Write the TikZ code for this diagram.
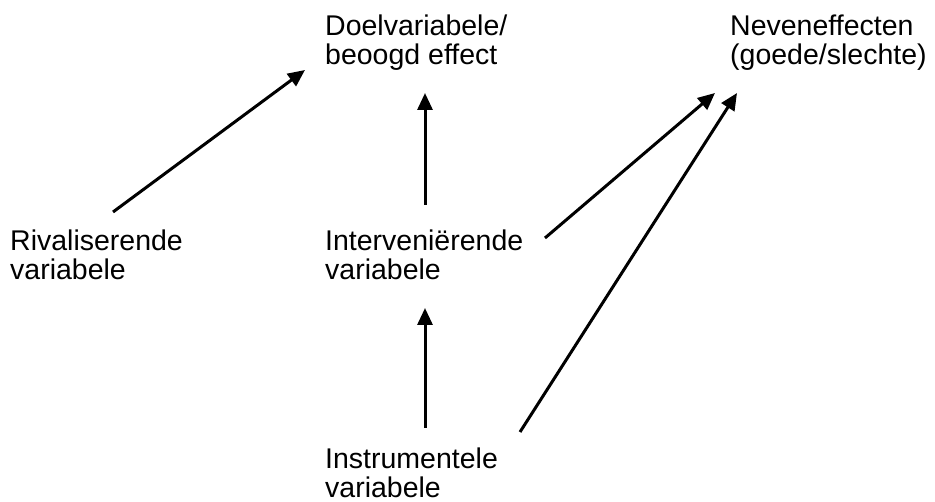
\documentclass[tikz,border=0pt]{standalone}
\usepackage{fontspec}
\setmainfont{Liberation Sans}
\usetikzlibrary{arrows.meta}
\begin{document}
\begin{tikzpicture}[x=1pt,y=-1pt,
  lbl/.style={anchor=base west,inner sep=0pt,align=left,font=\fontsize{28.5}{29.5}\selectfont},
  arr/.style={line width=3pt,-{Triangle[length=17pt,width=15pt]}}]
\useasboundingbox (0,0) rectangle (935,502);
\node[lbl] (doel) at (325,65) {Doelvariabele/\\beoogd effect};
\node[lbl] (neven) at (730,65) {Neveneffecten\\(goede/slechte)};
\node[lbl] (rival) at (10,280) {Rivaliserende\\variabele};
\node[lbl] (interv) at (325,280) {Interveniërende\\variabele};
\node[lbl] (instr) at (325,498) {Instrumentele\\variabele};
\coordinate (r1) at (113,212);
\coordinate (d1) at (305,70);
\coordinate (i1) at (425,205);
\coordinate (d2) at (425,93);
\coordinate (i2) at (545,238);
\coordinate (n1) at (715,93);
\coordinate (s1) at (425,428);
\coordinate (i3) at (425,308);
\coordinate (s2) at (520,432);
\coordinate (n2) at (737,93);
\draw[arr] (r1) -- (d1);
\draw[arr] (i1) -- (d2);
\draw[arr] (i2) -- (n1);
\draw[arr] (s1) -- (i3);
\draw[arr] (s2) -- (n2);
\end{tikzpicture}
\end{document}
